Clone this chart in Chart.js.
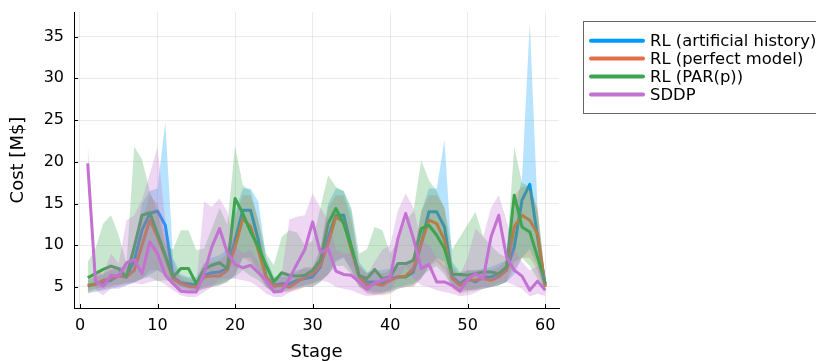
<!DOCTYPE html>
<html>
<head>
<meta charset="utf-8">
<title>Cost per stage</title>
<script src="https://cdn.jsdelivr.net/npm/chart.js@4/dist/chart.umd.min.js"></script>
<style>
  html, body { margin: 0; padding: 0; background: #fff; overflow: hidden; }
  #wrap { width: 816px; height: 361px; position: relative; }
</style>
</head>
<body>
<div id="wrap"><canvas id="c" width="816" height="361"></canvas></div>
<script>
// Stages 1..60
const stages = Array.from({ length: 60 }, (_, i) => i + 1);
const xTicks = [0, 10, 20, 30, 40, 50, 60];
const yTicks = [5, 10, 15, 20, 25, 30, 35];

const seriesNames = ['RL (artificial history)', 'RL (perfect model)', 'RL (PAR(p))', 'SDDP'];

// Mean cost per stage [M$]
const rlArtificial = [
  5.1, 5.4, 5.6, 5.8, 6.4, 6.2, 8.2, 11.8, 13.8, 14.1, 12.4, 6.2, 5.5, 5.4, 5.2,
  6.4, 6.7, 6.8, 7.2, 10.6, 14.2, 14.2, 10.6, 6.2, 5.2, 5.4, 5.4, 5.8, 6.0, 6.2,
  7.4, 11.0, 13.6, 13.6, 9.8, 6.2, 5.6, 5.6, 5.4, 6.0, 6.2, 6.2, 6.8, 10.2, 14.0,
  14.0, 12.2, 6.2, 5.4, 6.0, 5.6, 6.2, 6.2, 6.6, 7.0, 9.8, 15.4, 17.3, 11.0, 5.2
];
const rlPerfect = [
  5.2, 5.3, 5.8, 6.0, 6.3, 6.2, 7.0, 10.0, 13.0, 11.0, 8.6, 6.0, 5.4, 5.1, 5.0,
  6.2, 6.3, 6.3, 7.0, 9.8, 13.2, 12.2, 9.4, 6.2, 5.1, 5.2, 5.0, 5.6, 6.2, 6.6,
  7.6, 10.2, 13.4, 12.8, 9.4, 6.2, 5.2, 5.4, 5.2, 5.8, 6.2, 6.3, 7.2, 10.2, 13.0,
  12.6, 10.6, 6.0, 5.2, 5.8, 5.8, 6.0, 5.8, 6.2, 7.0, 12.2, 13.6, 13.0, 11.4, 5.0
];
const rlPar = [
  6.1, 6.6, 7.1, 7.5, 7.2, 6.2, 9.8, 13.6, 13.9, 11.4, 8.8, 6.2, 7.2, 7.2, 5.4,
  7.1, 7.6, 7.9, 7.2, 15.6, 13.8, 11.6, 9.8, 7.6, 5.6, 6.7, 6.4, 6.3, 6.4, 7.0,
  8.2, 12.6, 14.4, 12.6, 9.8, 6.4, 6.0, 7.1, 6.0, 6.2, 7.8, 7.8, 8.2, 12.0, 12.4,
  11.2, 9.6, 6.5, 6.5, 6.4, 6.6, 6.8, 6.8, 6.6, 7.4, 16.0, 12.2, 11.6, 8.6, 5.4
];
const sddp = [
  19.8, 5.7, 5.1, 6.4, 6.3, 7.9, 8.3, 6.6, 10.4, 9.0, 6.4, 5.4, 4.5, 4.4, 4.4,
  6.6, 9.8, 12.0, 9.1, 7.7, 7.3, 7.6, 6.7, 5.8, 4.4, 4.5, 6.0, 7.8, 9.5, 12.8,
  9.1, 9.6, 6.9, 6.5, 6.4, 5.6, 4.7, 5.5, 5.8, 6.1, 10.8, 13.8, 10.8, 7.2, 7.7,
  5.6, 5.6, 5.2, 4.5, 5.9, 6.6, 6.0, 11.0, 13.6, 8.6, 7.0, 6.3, 4.6, 5.7, 4.6
];

// Lower / upper limits of the shaded bands [M$]
const rlArtificialLo = [
  4.3, 4.4, 4.6, 4.8, 5.0, 5.2, 5.5, 6.0, 6.5, 7.0, 6.5, 5.2, 4.6, 4.4, 4.4,
  4.8, 5.0, 5.2, 5.6, 6.4, 8.5, 8.5, 6.8, 5.0, 4.3, 4.4, 4.6, 4.8, 5.0, 5.0,
  5.6, 6.5, 8.0, 8.5, 7.0, 5.2, 4.4, 4.2, 4.2, 4.4, 4.8, 5.0, 5.2, 6.0, 7.5,
  8.5, 8.0, 5.0, 4.4, 4.6, 4.6, 4.8, 5.0, 5.2, 5.6, 6.5, 8.5, 9.5, 7.5, 4.3
];
const rlArtificialHi = [
  5.8, 6.2, 6.5, 7.0, 7.3, 7.5, 10.0, 15.0, 16.5, 16.8, 24.8, 8.5, 6.5, 6.2, 6.2,
  7.8, 8.5, 8.8, 9.5, 14.0, 16.8, 16.8, 15.2, 8.6, 6.2, 6.4, 6.5, 7.0, 7.2, 7.2,
  9.5, 15.0, 16.8, 16.5, 14.0, 8.0, 6.8, 7.0, 7.0, 7.2, 7.6, 7.8, 8.4, 14.0, 16.8,
  16.8, 22.6, 8.0, 6.8, 7.0, 7.0, 7.2, 7.4, 7.8, 8.2, 14.0, 17.9, 36.7, 14.5, 6.0
];
const rlPerfectLo = [
  4.2, 4.6, 4.7, 5.0, 5.2, 5.4, 5.6, 6.0, 7.0, 7.0, 6.3, 5.3, 4.7, 4.5, 4.5,
  4.8, 5.0, 5.2, 5.6, 6.5, 8.5, 8.0, 6.5, 5.0, 4.3, 4.4, 4.4, 4.6, 5.0, 5.0,
  5.6, 6.5, 8.2, 8.6, 7.0, 5.0, 4.2, 4.0, 4.0, 4.2, 4.8, 5.0, 5.0, 6.0, 7.5,
  8.0, 7.0, 4.8, 4.2, 4.4, 4.6, 4.8, 5.0, 5.2, 5.6, 7.0, 8.5, 8.5, 7.0, 4.2
];
const rlPerfectHi = [
  6.0, 6.3, 6.8, 7.2, 7.3, 7.5, 8.5, 13.0, 16.0, 15.0, 11.0, 7.0, 6.3, 6.0, 5.8,
  7.8, 8.0, 8.2, 9.0, 13.5, 16.0, 16.0, 13.0, 8.0, 6.0, 6.2, 6.2, 6.8, 7.4, 7.4,
  9.5, 14.5, 16.0, 16.0, 13.0, 7.6, 6.6, 6.8, 6.6, 7.0, 7.4, 7.6, 8.6, 14.0, 16.0,
  16.0, 14.5, 7.6, 6.4, 7.0, 7.0, 7.0, 7.0, 7.4, 8.2, 16.0, 17.0, 17.0, 14.5, 5.8
];
const rlParLo = [
  4.5, 4.8, 5.0, 5.2, 5.3, 5.5, 5.6, 6.0, 6.2, 5.7, 5.8, 5.5, 5.0, 4.8, 4.6,
  5.0, 5.2, 5.4, 5.8, 6.2, 7.0, 6.3, 5.8, 5.0, 4.4, 4.6, 4.8, 5.0, 5.2, 5.4,
  5.8, 6.5, 7.5, 7.5, 6.5, 5.0, 4.6, 4.4, 4.4, 4.6, 5.0, 5.2, 5.4, 6.2, 7.0,
  7.5, 6.5, 5.0, 4.8, 4.6, 4.8, 5.0, 5.0, 5.2, 5.6, 8.0, 8.5, 7.5, 6.0, 4.5
];
const rlParHi = [
  8.0, 9.6, 12.6, 13.6, 11.2, 7.8, 21.8, 20.3, 16.5, 14.0, 10.0, 9.5, 11.8, 11.8, 9.4,
  9.6, 12.0, 14.5, 12.5, 21.9, 17.2, 16.5, 13.0, 9.0, 7.6, 11.0, 11.8, 11.5, 10.0, 10.5,
  14.5, 18.4, 17.0, 16.5, 14.5, 9.0, 9.5, 12.2, 11.8, 9.0, 10.5, 13.0, 14.0, 20.2, 17.8,
  16.5, 14.5, 9.5, 11.0, 12.5, 14.0, 11.0, 10.0, 9.0, 8.5, 21.8, 17.5, 17.0, 14.0, 6.0
];
const sddpLo = [
  17.8, 4.6, 4.0, 4.8, 4.8, 5.2, 5.5, 5.3, 5.6, 5.8, 5.3, 4.6, 4.0, 3.8, 3.8,
  4.4, 5.0, 6.0, 6.0, 6.0, 5.8, 5.6, 5.0, 4.2, 3.8, 3.8, 4.3, 4.9, 5.2, 5.5,
  5.8, 5.6, 5.0, 4.8, 4.6, 4.2, 3.9, 4.0, 4.3, 4.6, 6.0, 7.5, 6.0, 5.2, 5.0,
  4.6, 4.4, 4.2, 3.9, 4.0, 4.3, 4.8, 5.0, 5.5, 5.6, 5.2, 4.8, 3.9, 4.2, 3.9
];
const sddpHi = [
  22.3, 6.8, 6.5, 9.0, 7.8, 13.0, 13.6, 15.5, 18.5, 21.8, 13.0, 8.0, 6.0, 5.5, 5.2,
  15.2, 14.6, 15.6, 14.0, 10.0, 9.0, 9.5, 8.0, 6.5, 5.5, 6.5, 13.1, 13.4, 13.6, 16.2,
  14.5, 13.0, 9.5, 9.0, 9.0, 7.5, 6.5, 8.0, 9.5, 10.0, 14.2, 16.2, 14.5, 10.5, 10.0,
  8.5, 7.5, 7.0, 6.5, 8.5, 12.0, 11.0, 14.5, 16.0, 13.0, 9.5, 8.0, 7.0, 7.5, 6.5
];

const colors = ['#009AFA', '#E36F47', '#3EA44E', '#C371D2'];
const bandColors = [
  'rgba(0,154,250,0.28)', 'rgba(227,111,71,0.28)',
  'rgba(62,164,78,0.28)', 'rgba(195,113,210,0.28)'
];

const means = [rlArtificial, rlPerfect, rlPar, sddp];
const lows = [rlArtificialLo, rlPerfectLo, rlParLo, sddpLo];
const highs = [rlArtificialHi, rlPerfectHi, rlParHi, sddpHi];

const pts = arr => stages.map((s, i) => ({ x: s, y: arr[i] }));

// Each series: invisible lower edge, upper edge filled down to it, then the mean line.
// Later series are painted over earlier ones (lower "order" = painted later).
const datasets = [];
means.forEach((m, k) => {
  const base = (3 - k) * 3;
  const loIndex = datasets.length;
  datasets.push({
    label: seriesNames[k] + ' lo', band: true, data: pts(lows[k]),
    borderWidth: 0, pointRadius: 0, fill: false, order: base + 2
  });
  datasets.push({
    label: seriesNames[k] + ' hi', band: true, data: pts(highs[k]),
    borderWidth: 0, pointRadius: 0, backgroundColor: bandColors[k],
    fill: { target: loIndex }, order: base + 1
  });
  datasets.push({
    label: seriesNames[k], data: pts(m), borderColor: colors[k],
    borderWidth: 3, pointRadius: 0, fill: false, tension: 0,
    borderJoinStyle: 'round', order: base
  });
});

// Small inward tick marks on both axes
const innerTicks = {
  id: 'innerTicks',
  afterDraw(chart) {
    const { ctx, chartArea: a, scales } = chart;
    ctx.save();
    ctx.strokeStyle = '#000';
    ctx.lineWidth = 1;
    ctx.beginPath();
    scales.x.ticks.forEach(t => {
      const px = Math.round(scales.x.getPixelForValue(t.value)) + 0.5;
      ctx.moveTo(px, a.bottom); ctx.lineTo(px, a.bottom - 4);
    });
    scales.y.ticks.forEach(t => {
      const py = Math.round(scales.y.getPixelForValue(t.value)) + 0.5;
      ctx.moveTo(a.left, py); ctx.lineTo(a.left + 4, py);
    });
    ctx.stroke();
    ctx.restore();
  }
};

// Framed legend placed to the right of the plot (runs past the canvas edge)
const legendBox = {
  id: 'legendBox',
  afterDraw(chart) {
    const { ctx } = chart;
    const items = chart.data.datasets.filter(d => !d.band);
    const x0 = 583.5, y0 = 21.5, w = 300, h = 92;
    ctx.save();
    ctx.fillStyle = '#fff';
    ctx.fillRect(x0, y0, w, h);
    ctx.strokeStyle = '#666';
    ctx.lineWidth = 1;
    ctx.strokeRect(x0, y0, w, h);
    ctx.font = "16.4px 'DejaVu Sans'";
    ctx.textBaseline = 'middle';
    items.forEach((d, i) => {
      const y = 40.7 + i * 17.9;
      ctx.strokeStyle = d.borderColor;
      ctx.lineWidth = 4;
      ctx.lineCap = 'round';
      ctx.beginPath();
      ctx.moveTo(591, y); ctx.lineTo(643, y);
      ctx.stroke();
      ctx.fillStyle = '#000';
      ctx.fillText(d.label, 650, y + 1);
    });
    ctx.restore();
  }
};

Chart.defaults.font.family = "'DejaVu Sans', sans-serif";
Chart.defaults.color = '#000';

new Chart(document.getElementById('c'), {
  type: 'line',
  data: { datasets },
  plugins: [innerTicks, legendBox],
  options: {
    responsive: false,
    devicePixelRatio: 1,
    animation: false,
    layout: { padding: { left: 0, right: 257, top: 12, bottom: 0 } },
    plugins: { legend: { display: false }, tooltip: { enabled: false } },
    scales: {
      x: {
        type: 'linear', min: -0.77, max: 61.77,
        afterBuildTicks: s => { s.ticks = xTicks.map(v => ({ value: v })); },
        ticks: { font: { size: 16 }, padding: 8, maxRotation: 0, color: '#000' },
        grid: { color: 'rgba(0,0,0,0.08)', lineWidth: 1, drawTicks: false },
        border: { display: true, color: '#000', width: 1 },
        title: { display: true, text: 'Stage', font: { size: 18 }, padding: { top: 0, bottom: -2 }, color: '#000' },
        afterFit: s => { s.height = 53; s.paddingLeft = 0; s.paddingRight = 0; }
      },
      y: {
        type: 'linear', min: 2.48, max: 37.95,
        afterBuildTicks: s => { s.ticks = yTicks.map(v => ({ value: v })); },
        ticks: { font: { size: 16 }, padding: 10, color: '#000' },
        grid: { color: 'rgba(0,0,0,0.08)', lineWidth: 1, drawTicks: false },
        border: { display: true, color: '#000', width: 1 },
        title: { display: true, text: 'Cost [M$]', font: { size: 18 }, padding: { top: 8, bottom: 0 }, color: '#000' },
        afterFit: s => { s.width = 74; s.paddingTop = 0; s.paddingBottom = 0; }
      }
    }
  }
});
</script>
</body>
</html>
